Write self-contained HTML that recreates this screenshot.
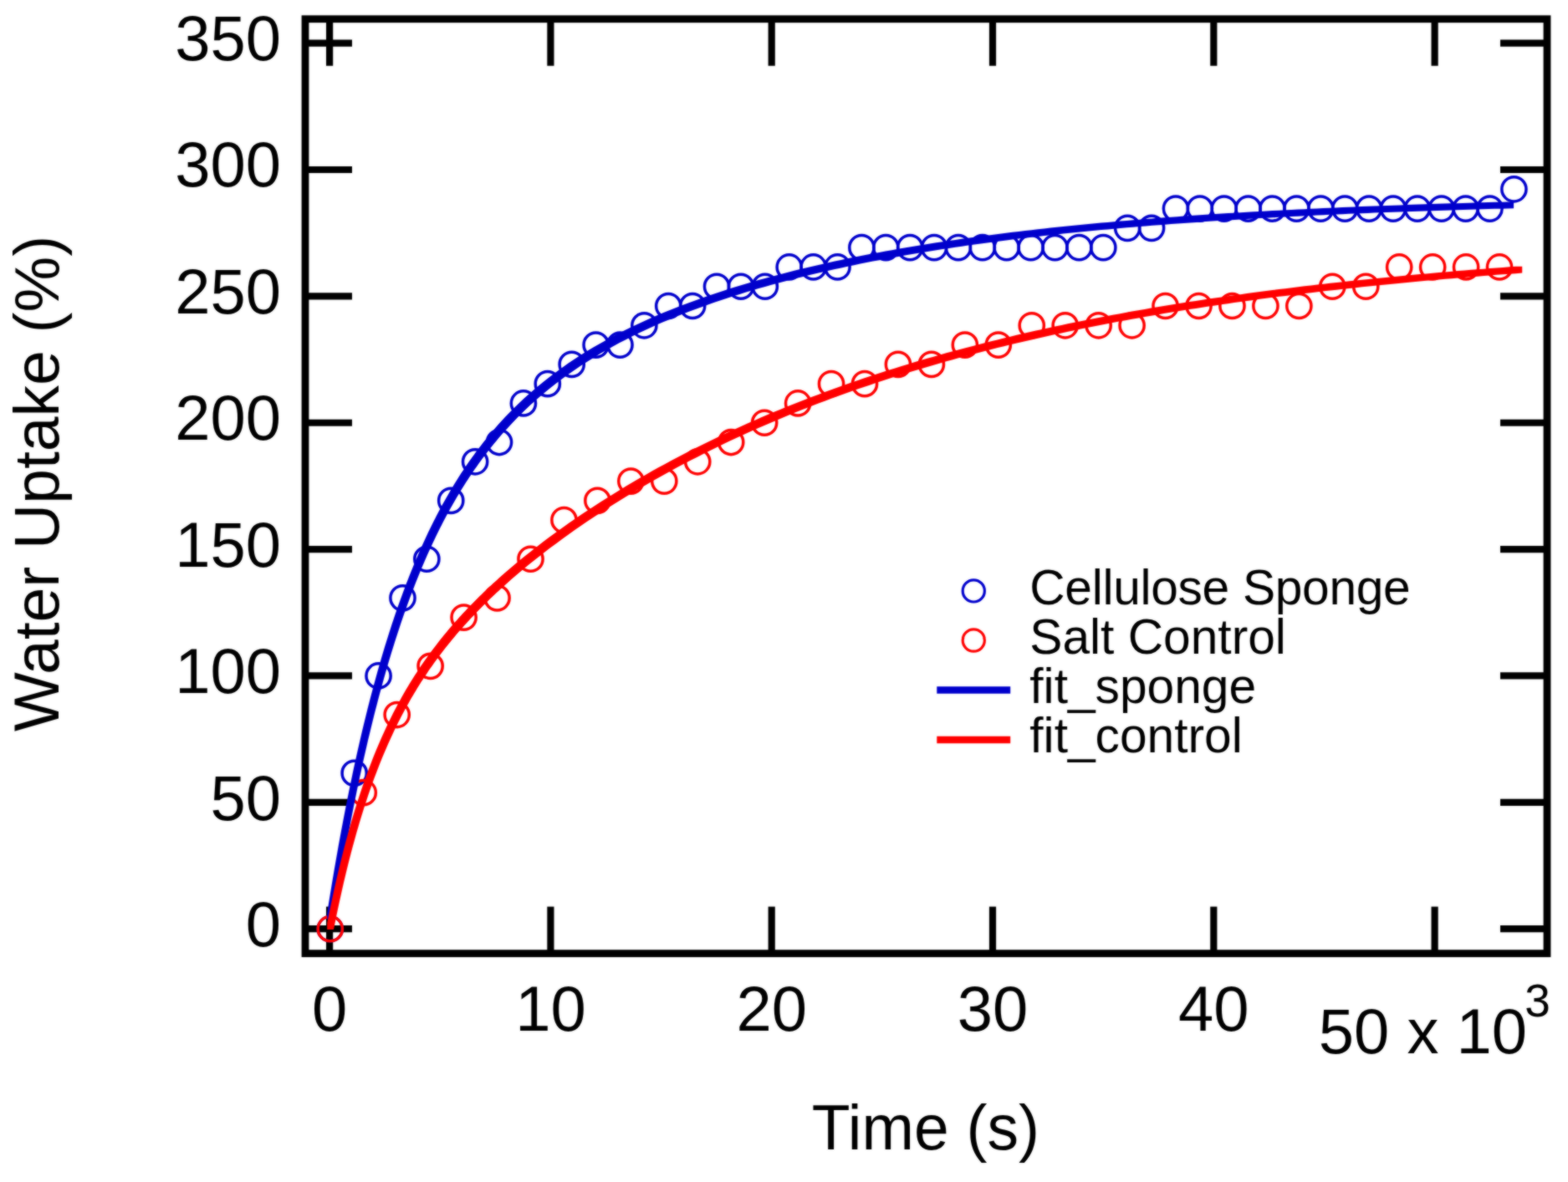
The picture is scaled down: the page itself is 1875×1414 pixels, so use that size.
<!DOCTYPE html>
<html lang="en"><head><meta charset="utf-8"><title>Water Uptake vs Time</title>
<style>html,body{margin:0;padding:0;background:#fff;}body{width:1875px;height:1414px;overflow:hidden;}svg{display:block;}text{font-family:"Liberation Sans",Arial,Helvetica,sans-serif;fill:#000;}</style></head><body>
<svg width="1875" height="1414" viewBox="0 0 1875 1414">
<defs><filter id="soft" filterUnits="userSpaceOnUse" x="0" y="0" width="1875" height="1414" color-interpolation-filters="sRGB"><feGaussianBlur in="SourceGraphic" stdDeviation="1" result="b"/><feComposite in="SourceGraphic" in2="b" operator="arithmetic" k1="0" k2="0.4" k3="0.6" k4="0"/></filter></defs>
<g filter="url(#soft)">
<rect width="1875" height="1414" fill="#fff"/>
<g stroke="#000" stroke-width="8.2" fill="none">
<line x1="394.1" y1="1140.6" x2="394.1" y2="1084.6"/>
<line x1="394.1" y1="22.75" x2="394.1" y2="78.75"/>
<line x1="658.4" y1="1140.6" x2="658.4" y2="1084.6"/>
<line x1="658.4" y1="22.75" x2="658.4" y2="78.75"/>
<line x1="922.7" y1="1140.6" x2="922.7" y2="1084.6"/>
<line x1="922.7" y1="22.75" x2="922.7" y2="78.75"/>
<line x1="1187" y1="1140.6" x2="1187" y2="1084.6"/>
<line x1="1187" y1="22.75" x2="1187" y2="78.75"/>
<line x1="1451.3" y1="1140.6" x2="1451.3" y2="1084.6"/>
<line x1="1451.3" y1="22.75" x2="1451.3" y2="78.75"/>
<line x1="1715.6" y1="1140.6" x2="1715.6" y2="1084.6"/>
<line x1="1715.6" y1="22.75" x2="1715.6" y2="78.75"/>
<line x1="365" y1="1111.2" x2="421" y2="1111.2"/>
<line x1="1850" y1="1111.2" x2="1794" y2="1111.2"/>
<line x1="365" y1="959.84" x2="421" y2="959.84"/>
<line x1="1850" y1="959.84" x2="1794" y2="959.84"/>
<line x1="365" y1="808.47" x2="421" y2="808.47"/>
<line x1="1850" y1="808.47" x2="1794" y2="808.47"/>
<line x1="365" y1="657.11" x2="421" y2="657.11"/>
<line x1="1850" y1="657.11" x2="1794" y2="657.11"/>
<line x1="365" y1="505.74" x2="421" y2="505.74"/>
<line x1="1850" y1="505.74" x2="1794" y2="505.74"/>
<line x1="365" y1="354.38" x2="421" y2="354.38"/>
<line x1="1850" y1="354.38" x2="1794" y2="354.38"/>
<line x1="365" y1="203.01" x2="421" y2="203.01"/>
<line x1="1850" y1="203.01" x2="1794" y2="203.01"/>
<line x1="365" y1="51.64" x2="421" y2="51.64"/>
<line x1="1850" y1="51.64" x2="1794" y2="51.64"/>
</g>
<rect x="365" y="22.75" width="1485" height="1117.85" fill="none" stroke="#000" stroke-width="8.8"/>
<text transform="translate(336 1132.1)" font-size="76" text-anchor="end">0</text>
<text transform="translate(336 980.65)" font-size="76" text-anchor="end">50</text>
<text transform="translate(336 829.2)" font-size="76" text-anchor="end">100</text>
<text transform="translate(336 677.75)" font-size="76" text-anchor="end">150</text>
<text transform="translate(336 526.3)" font-size="76" text-anchor="end">200</text>
<text transform="translate(336 374.85)" font-size="76" text-anchor="end">250</text>
<text transform="translate(336 223.4)" font-size="76" text-anchor="end">300</text>
<text transform="translate(336 71.95)" font-size="76" text-anchor="end">350</text>
<text transform="translate(394.1 1232.7)" font-size="76" text-anchor="middle">0</text>
<text transform="translate(658.4 1232.7)" font-size="76" text-anchor="middle">10</text>
<text transform="translate(922.7 1232.7)" font-size="76" text-anchor="middle">20</text>
<text transform="translate(1187 1232.7)" font-size="76" text-anchor="middle">30</text>
<text transform="translate(1451.3 1232.7)" font-size="76" text-anchor="middle">40</text>
<text transform="translate(1576.8 1259.6)" font-size="76" text-anchor="start">50 x 10</text>
<text transform="translate(1823.2 1216.3)" font-size="55" text-anchor="start">3</text>
<text transform="translate(1106.8 1375) scale(1 1.02)" font-size="75" text-anchor="middle">Time (s)</text>
<text transform="translate(69.7 578.4) rotate(-90) scale(1 1.02)" font-size="75" text-anchor="middle">Water Uptake (%)</text>
<g fill="none" stroke="#0000cc" stroke-width="3.5">
<circle cx="394.8" cy="1111.2" r="14.6"/>
<circle cx="423.69" cy="924.9" r="14.6"/>
<circle cx="452.58" cy="808.47" r="14.6"/>
<circle cx="481.47" cy="715.32" r="14.6"/>
<circle cx="510.36" cy="668.75" r="14.6"/>
<circle cx="539.25" cy="598.89" r="14.6"/>
<circle cx="568.14" cy="552.31" r="14.6"/>
<circle cx="597.03" cy="529.03" r="14.6"/>
<circle cx="625.92" cy="482.45" r="14.6"/>
<circle cx="654.81" cy="459.17" r="14.6"/>
<circle cx="683.7" cy="435.88" r="14.6"/>
<circle cx="712.59" cy="412.59" r="14.6"/>
<circle cx="741.48" cy="412.59" r="14.6"/>
<circle cx="770.37" cy="389.31" r="14.6"/>
<circle cx="799.26" cy="366.02" r="14.6"/>
<circle cx="828.15" cy="366.02" r="14.6"/>
<circle cx="857.04" cy="342.73" r="14.6"/>
<circle cx="885.93" cy="342.73" r="14.6"/>
<circle cx="914.82" cy="342.73" r="14.6"/>
<circle cx="943.71" cy="319.44" r="14.6"/>
<circle cx="972.6" cy="319.44" r="14.6"/>
<circle cx="1001.49" cy="319.44" r="14.6"/>
<circle cx="1030.38" cy="296.16" r="14.6"/>
<circle cx="1059.27" cy="296.16" r="14.6"/>
<circle cx="1088.16" cy="296.16" r="14.6"/>
<circle cx="1117.05" cy="296.16" r="14.6"/>
<circle cx="1145.94" cy="296.16" r="14.6"/>
<circle cx="1174.83" cy="296.16" r="14.6"/>
<circle cx="1203.72" cy="296.16" r="14.6"/>
<circle cx="1232.61" cy="296.16" r="14.6"/>
<circle cx="1261.5" cy="296.16" r="14.6"/>
<circle cx="1290.39" cy="296.16" r="14.6"/>
<circle cx="1319.28" cy="296.16" r="14.6"/>
<circle cx="1348.17" cy="272.87" r="14.6"/>
<circle cx="1377.06" cy="272.87" r="14.6"/>
<circle cx="1405.95" cy="249.58" r="14.6"/>
<circle cx="1434.84" cy="249.58" r="14.6"/>
<circle cx="1463.73" cy="249.58" r="14.6"/>
<circle cx="1492.62" cy="249.58" r="14.6"/>
<circle cx="1521.51" cy="249.58" r="14.6"/>
<circle cx="1550.4" cy="249.58" r="14.6"/>
<circle cx="1579.29" cy="249.58" r="14.6"/>
<circle cx="1608.18" cy="249.58" r="14.6"/>
<circle cx="1637.07" cy="249.58" r="14.6"/>
<circle cx="1665.96" cy="249.58" r="14.6"/>
<circle cx="1694.85" cy="249.58" r="14.6"/>
<circle cx="1723.74" cy="249.58" r="14.6"/>
<circle cx="1752.63" cy="249.58" r="14.6"/>
<circle cx="1781.52" cy="249.58" r="14.6"/>
<circle cx="1810.41" cy="226.3" r="14.6"/>
<circle cx="1164.3" cy="706.9" r="13.1" stroke-width="3.2"/>
</g>
<g fill="none" stroke="#ff0000" stroke-width="3.5">
<circle cx="394.8" cy="1111.2" r="14.6"/>
<circle cx="434.75" cy="948.19" r="14.6"/>
<circle cx="474.7" cy="855.04" r="14.6"/>
<circle cx="514.65" cy="796.83" r="14.6"/>
<circle cx="554.6" cy="738.61" r="14.6"/>
<circle cx="594.55" cy="715.32" r="14.6"/>
<circle cx="634.5" cy="668.75" r="14.6"/>
<circle cx="674.45" cy="622.17" r="14.6"/>
<circle cx="714.4" cy="598.89" r="14.6"/>
<circle cx="754.35" cy="575.6" r="14.6"/>
<circle cx="794.3" cy="575.6" r="14.6"/>
<circle cx="834.25" cy="552.31" r="14.6"/>
<circle cx="874.2" cy="529.03" r="14.6"/>
<circle cx="914.15" cy="505.74" r="14.6"/>
<circle cx="954.1" cy="482.45" r="14.6"/>
<circle cx="994.05" cy="459.17" r="14.6"/>
<circle cx="1034" cy="459.17" r="14.6"/>
<circle cx="1073.95" cy="435.88" r="14.6"/>
<circle cx="1113.9" cy="435.88" r="14.6"/>
<circle cx="1153.85" cy="412.59" r="14.6"/>
<circle cx="1193.8" cy="412.59" r="14.6"/>
<circle cx="1233.75" cy="389.31" r="14.6"/>
<circle cx="1273.7" cy="389.31" r="14.6"/>
<circle cx="1313.65" cy="389.31" r="14.6"/>
<circle cx="1353.6" cy="389.31" r="14.6"/>
<circle cx="1393.55" cy="366.02" r="14.6"/>
<circle cx="1433.5" cy="366.02" r="14.6"/>
<circle cx="1473.45" cy="366.02" r="14.6"/>
<circle cx="1513.4" cy="366.02" r="14.6"/>
<circle cx="1553.35" cy="366.02" r="14.6"/>
<circle cx="1593.3" cy="342.73" r="14.6"/>
<circle cx="1633.25" cy="342.73" r="14.6"/>
<circle cx="1673.2" cy="319.44" r="14.6"/>
<circle cx="1713.15" cy="319.44" r="14.6"/>
<circle cx="1753.1" cy="319.44" r="14.6"/>
<circle cx="1793.05" cy="319.44" r="14.6"/>
<circle cx="1164.3" cy="766" r="13.1" stroke-width="3.2"/>
</g>
<path d="M391.2 1092.15 L392.92 1081.32 L394.64 1070.69 L396.37 1060.23 L398.09 1049.95 L399.81 1039.85 L401.53 1029.91 L403.25 1020.14 L404.97 1010.54 L406.7 1001.09 L408.42 991.81 L410.14 982.68 L411.86 973.7 L413.58 964.87 L415.31 956.18 L417.03 947.64 L418.75 939.24 L420.47 930.98 L422.19 922.86 L423.92 914.87 L425.64 907.01 L427.36 899.27 L429.08 891.67 L430.8 884.18 L432.52 876.82 L434.25 869.58 L435.97 862.45 L437.69 855.44 L439.41 848.54 L441.13 841.76 L442.86 835.08 L444.58 828.5 L446.3 822.03 L448.02 815.67 L449.74 809.4 L451.46 803.24 L453.19 797.17 L454.91 791.19 L456.63 785.31 L458.35 779.52 L460.07 773.82 L461.8 768.21 L463.52 762.69 L465.24 757.25 L466.96 751.9 L468.68 746.62 L470.41 741.43 L472.13 736.32 L473.85 731.28 L475.57 726.32 L477.29 721.44 L479.01 716.63 L480.74 711.89 L482.46 707.23 L484.18 702.63 L485.9 698.1 L487.62 693.64 L489.35 689.24 L491.07 684.91 L492.79 680.64 L494.51 676.44 L496.23 672.29 L497.95 668.21 L499.68 664.19 L501.4 660.22 L503.12 656.31 L504.84 652.46 L506.56 648.66 L508.29 644.92 L510.01 641.23 L511.73 637.59 L513.45 634 L515.17 630.46 L516.89 626.97 L518.62 623.54 L520.34 620.14 L522.06 616.8 L523.78 613.5 L525.5 610.25 L527.23 607.04 L528.95 603.87 L530.67 600.75 L532.39 597.67 L534.11 594.63 L535.84 591.63 L537.56 588.68 L539.28 585.76 L541 582.88 L542.72 580.04 L544.44 577.23 L546.17 574.46 L547.89 571.73 L549.61 569.03 L551.33 566.37 L553.05 563.74 L554.78 561.15 L556.5 558.59 L558.22 556.06 L559.94 553.56 L561.66 551.1 L563.38 548.66 L565.11 546.26 L566.83 543.88 L568.55 541.54 L570.27 539.22 L571.99 536.93 L573.72 534.67 L575.44 532.44 L577.16 530.23 L578.88 528.05 L580.6 525.9 L582.33 523.77 L584.05 521.67 L585.77 519.59 L587.49 517.54 L589.21 515.51 L590.93 513.5 L592.66 511.52 L594.38 509.56 L596.1 507.62 L603.69 499.34 L611.27 491.46 L618.86 483.95 L626.44 476.79 L634.03 469.95 L641.62 463.41 L649.2 457.15 L656.79 451.15 L664.38 445.41 L671.96 439.89 L679.55 434.59 L687.13 429.5 L694.72 424.59 L702.31 419.87 L709.89 415.31 L717.48 410.92 L725.06 406.67 L732.65 402.57 L740.24 398.61 L747.82 394.77 L755.41 391.05 L763 387.45 L770.58 383.96 L778.17 380.57 L785.75 377.28 L793.34 374.08 L800.93 370.98 L808.51 367.96 L816.1 365.02 L823.68 362.16 L831.27 359.38 L838.86 356.67 L846.44 354.03 L854.03 351.45 L861.62 348.94 L869.2 346.5 L876.79 344.11 L884.37 341.78 L891.96 339.5 L899.55 337.28 L907.13 335.11 L914.72 332.99 L922.31 330.92 L929.89 328.9 L937.48 326.92 L945.06 324.98 L952.65 323.09 L960.24 321.24 L967.82 319.44 L975.41 317.67 L982.99 315.93 L990.58 314.24 L998.17 312.58 L1005.75 310.96 L1013.34 309.37 L1020.93 307.82 L1028.51 306.29 L1036.1 304.8 L1043.68 303.35 L1051.27 301.92 L1058.86 300.52 L1066.44 299.15 L1074.03 297.8 L1081.61 296.49 L1089.2 295.2 L1096.79 293.94 L1104.37 292.71 L1111.96 291.49 L1119.55 290.31 L1127.13 289.15 L1134.72 288.01 L1142.3 286.89 L1149.89 285.8 L1157.48 284.73 L1165.06 283.68 L1172.65 282.65 L1180.23 281.64 L1187.82 280.65 L1195.41 279.69 L1202.99 278.74 L1210.58 277.81 L1218.17 276.9 L1225.75 276 L1233.34 275.13 L1240.92 274.27 L1248.51 273.43 L1256.1 272.61 L1263.68 271.8 L1271.27 271.01 L1278.85 270.23 L1286.44 269.47 L1294.03 268.73 L1301.61 268 L1309.2 267.28 L1316.79 266.58 L1324.37 265.89 L1331.96 265.21 L1339.54 264.55 L1347.13 263.91 L1354.72 263.27 L1362.3 262.65 L1369.89 262.04 L1377.47 261.44 L1385.06 260.85 L1392.65 260.28 L1400.23 259.71 L1407.82 259.16 L1415.41 258.62 L1422.99 258.09 L1430.58 257.57 L1438.16 257.06 L1445.75 256.56 L1453.34 256.07 L1460.92 255.59 L1468.51 255.12 L1476.09 254.65 L1483.68 254.2 L1491.27 253.76 L1498.85 253.32 L1506.44 252.9 L1514.03 252.48 L1521.61 252.07 L1529.2 251.67 L1536.78 251.27 L1544.37 250.89 L1551.96 250.51 L1559.54 250.14 L1567.13 249.78 L1574.72 249.42 L1582.3 249.07 L1589.89 248.73 L1597.47 248.39 L1605.06 248.06 L1612.65 247.74 L1620.23 247.42 L1627.82 247.11 L1635.4 246.81 L1642.99 246.51 L1650.58 246.22 L1658.16 245.93 L1665.75 245.65 L1673.34 245.38 L1680.92 245.11 L1688.51 244.84 L1696.09 244.58 L1703.68 244.33 L1711.27 244.08 L1718.85 243.84 L1726.44 243.6 L1734.02 243.36 L1741.61 243.13 L1749.2 242.91 L1756.78 242.68 L1764.37 242.47 L1771.96 242.26 L1779.54 242.05 L1787.13 241.84 L1794.71 241.64 L1802.3 241.45 L1810.1 241.45 L1810.1 249.25 L1802.51 249.44 L1794.93 249.64 L1787.34 249.85 L1779.76 250.06 L1772.17 250.27 L1764.58 250.48 L1757 250.71 L1749.41 250.93 L1741.82 251.16 L1734.24 251.4 L1726.65 251.64 L1719.07 251.88 L1711.48 252.13 L1703.89 252.38 L1696.31 252.64 L1688.72 252.91 L1681.14 253.18 L1673.55 253.45 L1665.96 253.73 L1658.38 254.02 L1650.79 254.31 L1643.2 254.61 L1635.62 254.91 L1628.03 255.22 L1620.45 255.54 L1612.86 255.86 L1605.27 256.19 L1597.69 256.53 L1590.1 256.87 L1582.52 257.22 L1574.93 257.58 L1567.34 257.94 L1559.76 258.31 L1552.17 258.69 L1544.58 259.07 L1537 259.47 L1529.41 259.87 L1521.83 260.28 L1514.24 260.7 L1506.65 261.12 L1499.07 261.56 L1491.48 262 L1483.89 262.45 L1476.31 262.92 L1468.72 263.39 L1461.14 263.87 L1453.55 264.36 L1445.96 264.86 L1438.38 265.37 L1430.79 265.89 L1423.21 266.42 L1415.62 266.96 L1408.03 267.51 L1400.45 268.08 L1392.86 268.65 L1385.27 269.24 L1377.69 269.84 L1370.1 270.45 L1362.52 271.07 L1354.93 271.71 L1347.34 272.35 L1339.76 273.01 L1332.17 273.69 L1324.59 274.38 L1317 275.08 L1309.41 275.8 L1301.83 276.53 L1294.24 277.27 L1286.65 278.03 L1279.07 278.81 L1271.48 279.6 L1263.9 280.41 L1256.31 281.23 L1248.72 282.07 L1241.14 282.93 L1233.55 283.8 L1225.97 284.7 L1218.38 285.61 L1210.79 286.54 L1203.21 287.49 L1195.62 288.45 L1188.03 289.44 L1180.45 290.45 L1172.86 291.48 L1165.28 292.53 L1157.69 293.6 L1150.1 294.69 L1142.52 295.81 L1134.93 296.95 L1127.35 298.11 L1119.76 299.29 L1112.17 300.51 L1104.59 301.74 L1097 303 L1089.41 304.29 L1081.83 305.6 L1074.24 306.95 L1066.66 308.32 L1059.07 309.72 L1051.48 311.15 L1043.9 312.6 L1036.31 314.09 L1028.73 315.62 L1021.14 317.17 L1013.55 318.76 L1005.97 320.38 L998.38 322.04 L990.79 323.73 L983.21 325.47 L975.62 327.24 L968.04 329.04 L960.45 330.89 L952.86 332.78 L945.28 334.72 L937.69 336.7 L930.11 338.72 L922.52 340.79 L914.93 342.91 L907.35 345.08 L899.76 347.3 L892.17 349.58 L884.59 351.91 L877 354.3 L869.42 356.74 L861.83 359.25 L854.24 361.83 L846.66 364.47 L839.07 367.18 L831.48 369.96 L823.9 372.82 L816.31 375.76 L808.73 378.78 L801.14 381.88 L793.55 385.08 L785.97 388.37 L778.38 391.76 L770.8 395.25 L763.21 398.85 L755.62 402.57 L748.04 406.41 L740.45 410.37 L732.86 414.47 L725.28 418.72 L717.69 423.11 L710.11 427.67 L702.52 432.39 L694.93 437.3 L687.35 442.39 L679.76 447.69 L672.18 453.21 L664.59 458.95 L657 464.95 L649.42 471.21 L641.83 477.75 L634.24 484.59 L626.66 491.75 L619.07 499.26 L611.49 507.14 L603.9 515.42 L602.18 517.36 L600.46 519.32 L598.73 521.3 L597.01 523.31 L595.29 525.34 L593.57 527.39 L591.85 529.47 L590.13 531.57 L588.4 533.7 L586.68 535.85 L584.96 538.03 L583.24 540.24 L581.52 542.47 L579.79 544.73 L578.07 547.02 L576.35 549.34 L574.63 551.68 L572.91 554.06 L571.18 556.46 L569.46 558.9 L567.74 561.36 L566.02 563.86 L564.3 566.39 L562.58 568.95 L560.85 571.54 L559.13 574.17 L557.41 576.83 L555.69 579.53 L553.97 582.26 L552.24 585.03 L550.52 587.84 L548.8 590.68 L547.08 593.56 L545.36 596.48 L543.64 599.43 L541.91 602.43 L540.19 605.47 L538.47 608.55 L536.75 611.67 L535.03 614.84 L533.3 618.05 L531.58 621.3 L529.86 624.6 L528.14 627.94 L526.42 631.34 L524.69 634.77 L522.97 638.26 L521.25 641.8 L519.53 645.39 L517.81 649.03 L516.09 652.72 L514.36 656.46 L512.64 660.26 L510.92 664.11 L509.2 668.02 L507.48 671.99 L505.75 676.01 L504.03 680.09 L502.31 684.24 L500.59 688.44 L498.87 692.71 L497.15 697.04 L495.42 701.44 L493.7 705.9 L491.98 710.43 L490.26 715.03 L488.54 719.69 L486.81 724.43 L485.09 729.24 L483.37 734.12 L481.65 739.08 L479.93 744.12 L478.21 749.23 L476.48 754.42 L474.76 759.7 L473.04 765.05 L471.32 770.49 L469.6 776.01 L467.87 781.62 L466.15 787.32 L464.43 793.11 L462.71 798.99 L460.99 804.97 L459.26 811.04 L457.54 817.2 L455.82 823.47 L454.1 829.83 L452.38 836.3 L450.66 842.88 L448.93 849.56 L447.21 856.34 L445.49 863.24 L443.77 870.25 L442.05 877.38 L440.32 884.62 L438.6 891.98 L436.88 899.47 L435.16 907.07 L433.44 914.81 L431.72 922.67 L429.99 930.66 L428.27 938.78 L426.55 947.04 L424.83 955.44 L423.11 963.98 L421.38 972.67 L419.66 981.5 L417.94 990.48 L416.22 999.61 L414.5 1008.89 L412.77 1018.34 L411.05 1027.94 L409.33 1037.71 L407.61 1047.65 L405.89 1057.75 L404.17 1068.03 L402.44 1078.49 L400.72 1089.12 L399 1099.95 L391.2 1099.95 Z" fill="#0000cc" stroke="none"/>
<path d="M391.2 1104.3 L392.92 1095.65 L394.64 1087.21 L396.37 1078.98 L398.09 1070.94 L399.81 1063.09 L401.53 1055.42 L403.25 1047.94 L404.97 1040.63 L406.7 1033.48 L408.42 1026.5 L410.14 1019.69 L411.86 1013.02 L413.58 1006.5 L415.31 1000.13 L417.03 993.91 L418.75 987.81 L420.47 981.86 L422.19 976.03 L423.92 970.32 L425.64 964.74 L427.36 959.27 L429.08 953.92 L430.8 948.69 L432.52 943.55 L434.25 938.53 L435.97 933.61 L437.69 928.78 L439.41 924.05 L441.13 919.42 L442.86 914.88 L444.58 910.42 L446.3 906.05 L448.02 901.76 L449.74 897.56 L451.46 893.43 L453.19 889.38 L454.91 885.4 L456.63 881.49 L458.35 877.66 L460.07 873.89 L461.8 870.19 L463.52 866.55 L465.24 862.98 L466.96 859.46 L468.68 856.01 L470.41 852.61 L472.13 849.27 L473.85 845.98 L475.57 842.74 L477.29 839.56 L479.01 836.43 L480.74 833.34 L482.46 830.3 L484.18 827.31 L485.9 824.36 L487.62 821.46 L489.35 818.59 L491.07 815.77 L492.79 812.99 L494.51 810.25 L496.23 807.55 L497.95 804.88 L499.68 802.25 L501.4 799.65 L503.12 797.09 L504.84 794.56 L506.56 792.06 L508.29 789.6 L510.01 787.17 L511.73 784.76 L513.45 782.39 L515.17 780.04 L516.89 777.72 L518.62 775.43 L520.34 773.16 L522.06 770.92 L523.78 768.71 L525.5 766.52 L527.23 764.35 L528.95 762.2 L530.67 760.08 L532.39 757.98 L534.11 755.91 L535.84 753.85 L537.56 751.82 L539.28 749.8 L541 747.8 L542.72 745.83 L544.44 743.87 L546.17 741.93 L547.89 740.01 L549.61 738.1 L551.33 736.21 L553.05 734.34 L554.78 732.49 L556.5 730.65 L558.22 728.83 L559.94 727.02 L561.66 725.23 L563.38 723.45 L565.11 721.68 L566.83 719.93 L568.55 718.2 L570.27 716.48 L571.99 714.77 L573.72 713.07 L575.44 711.39 L577.16 709.71 L578.88 708.05 L580.6 706.41 L582.33 704.77 L584.05 703.15 L585.77 701.53 L587.49 699.93 L589.21 698.34 L590.93 696.76 L592.66 695.19 L594.38 693.63 L596.1 692.08 L603.75 685.31 L611.4 678.72 L619.05 672.29 L626.7 666.03 L634.35 659.9 L642 653.92 L649.65 648.06 L657.3 642.33 L664.95 636.72 L672.6 631.21 L680.25 625.81 L687.9 620.51 L695.55 615.31 L703.2 610.2 L710.85 605.18 L718.49 600.24 L726.14 595.4 L733.79 590.63 L741.44 585.94 L749.09 581.33 L756.74 576.79 L764.39 572.33 L772.04 567.94 L779.69 563.62 L787.34 559.37 L794.99 555.18 L802.64 551.06 L810.29 547 L817.94 543.01 L825.59 539.08 L833.24 535.21 L840.89 531.4 L848.54 527.64 L856.19 523.95 L863.84 520.31 L871.49 516.72 L879.14 513.2 L886.79 509.72 L894.44 506.3 L902.09 502.93 L909.74 499.61 L917.39 496.34 L925.04 493.12 L932.69 489.95 L940.34 486.82 L947.99 483.75 L955.64 480.72 L963.28 477.73 L970.93 474.8 L978.58 471.9 L986.23 469.05 L993.88 466.24 L1001.53 463.48 L1009.18 460.75 L1016.83 458.07 L1024.48 455.43 L1032.13 452.83 L1039.78 450.26 L1047.43 447.74 L1055.08 445.25 L1062.73 442.8 L1070.38 440.39 L1078.03 438.01 L1085.68 435.67 L1093.33 433.37 L1100.98 431.1 L1108.63 428.86 L1116.28 426.66 L1123.93 424.49 L1131.58 422.35 L1139.23 420.25 L1146.88 418.18 L1154.53 416.14 L1162.18 414.13 L1169.83 412.14 L1177.48 410.19 L1185.13 408.27 L1192.78 406.38 L1200.43 404.52 L1208.07 402.68 L1215.72 400.87 L1223.37 399.09 L1231.02 397.34 L1238.67 395.61 L1246.32 393.91 L1253.97 392.23 L1261.62 390.58 L1269.27 388.96 L1276.92 387.35 L1284.57 385.78 L1292.22 384.22 L1299.87 382.69 L1307.52 381.18 L1315.17 379.7 L1322.82 378.24 L1330.47 376.8 L1338.12 375.38 L1345.77 373.98 L1353.42 372.61 L1361.07 371.25 L1368.72 369.92 L1376.37 368.6 L1384.02 367.31 L1391.67 366.03 L1399.32 364.77 L1406.97 363.54 L1414.62 362.32 L1422.27 361.12 L1429.92 359.93 L1437.57 358.77 L1445.22 357.62 L1452.86 356.49 L1460.51 355.38 L1468.16 354.28 L1475.81 353.2 L1483.46 352.14 L1491.11 351.09 L1498.76 350.06 L1506.41 349.05 L1514.06 348.04 L1521.71 347.06 L1529.36 346.09 L1537.01 345.13 L1544.66 344.19 L1552.31 343.26 L1559.96 342.35 L1567.61 341.45 L1575.26 340.56 L1582.91 339.69 L1590.56 338.83 L1598.21 337.98 L1605.86 337.15 L1613.51 336.33 L1621.16 335.52 L1628.81 334.72 L1636.46 333.93 L1644.11 333.16 L1651.76 332.4 L1659.41 331.65 L1667.06 330.91 L1674.71 330.18 L1682.36 329.47 L1690.01 328.76 L1697.65 328.06 L1705.3 327.38 L1712.95 326.7 L1720.6 326.04 L1728.25 325.39 L1735.9 324.74 L1743.55 324.11 L1751.2 323.48 L1758.85 322.86 L1766.5 322.26 L1774.15 321.66 L1781.8 321.07 L1789.45 320.49 L1797.1 319.92 L1804.75 319.36 L1812.4 318.81 L1820.2 318.81 L1820.2 326.61 L1812.55 327.16 L1804.9 327.72 L1797.25 328.29 L1789.6 328.87 L1781.95 329.46 L1774.3 330.06 L1766.65 330.66 L1759 331.28 L1751.35 331.91 L1743.7 332.54 L1736.05 333.19 L1728.4 333.84 L1720.75 334.5 L1713.1 335.18 L1705.45 335.86 L1697.81 336.56 L1690.16 337.27 L1682.51 337.98 L1674.86 338.71 L1667.21 339.45 L1659.56 340.2 L1651.91 340.96 L1644.26 341.73 L1636.61 342.52 L1628.96 343.32 L1621.31 344.13 L1613.66 344.95 L1606.01 345.78 L1598.36 346.63 L1590.71 347.49 L1583.06 348.36 L1575.41 349.25 L1567.76 350.15 L1560.11 351.06 L1552.46 351.99 L1544.81 352.93 L1537.16 353.89 L1529.51 354.86 L1521.86 355.84 L1514.21 356.85 L1506.56 357.86 L1498.91 358.89 L1491.26 359.94 L1483.61 361 L1475.96 362.08 L1468.31 363.18 L1460.66 364.29 L1453.02 365.42 L1445.37 366.57 L1437.72 367.73 L1430.07 368.92 L1422.42 370.12 L1414.77 371.34 L1407.12 372.57 L1399.47 373.83 L1391.82 375.11 L1384.17 376.4 L1376.52 377.72 L1368.87 379.05 L1361.22 380.41 L1353.57 381.78 L1345.92 383.18 L1338.27 384.6 L1330.62 386.04 L1322.97 387.5 L1315.32 388.98 L1307.67 390.49 L1300.02 392.02 L1292.37 393.58 L1284.72 395.15 L1277.07 396.76 L1269.42 398.38 L1261.77 400.03 L1254.12 401.71 L1246.47 403.41 L1238.82 405.14 L1231.17 406.89 L1223.52 408.67 L1215.87 410.48 L1208.23 412.32 L1200.58 414.18 L1192.93 416.07 L1185.28 417.99 L1177.63 419.94 L1169.98 421.93 L1162.33 423.94 L1154.68 425.98 L1147.03 428.05 L1139.38 430.15 L1131.73 432.29 L1124.08 434.46 L1116.43 436.66 L1108.78 438.9 L1101.13 441.17 L1093.48 443.47 L1085.83 445.81 L1078.18 448.19 L1070.53 450.6 L1062.88 453.05 L1055.23 455.54 L1047.58 458.06 L1039.93 460.63 L1032.28 463.23 L1024.63 465.87 L1016.98 468.55 L1009.33 471.28 L1001.68 474.04 L994.03 476.85 L986.38 479.7 L978.73 482.6 L971.08 485.53 L963.44 488.52 L955.79 491.55 L948.14 494.62 L940.49 497.75 L932.84 500.92 L925.19 504.14 L917.54 507.41 L909.89 510.73 L902.24 514.1 L894.59 517.52 L886.94 521 L879.29 524.52 L871.64 528.11 L863.99 531.75 L856.34 535.44 L848.69 539.2 L841.04 543.01 L833.39 546.88 L825.74 550.81 L818.09 554.8 L810.44 558.86 L802.79 562.98 L795.14 567.17 L787.49 571.42 L779.84 575.74 L772.19 580.13 L764.54 584.59 L756.89 589.13 L749.24 593.74 L741.59 598.43 L733.94 603.2 L726.29 608.04 L718.65 612.98 L711 618 L703.35 623.11 L695.7 628.31 L688.05 633.61 L680.4 639.01 L672.75 644.52 L665.1 650.13 L657.45 655.86 L649.8 661.72 L642.15 667.7 L634.5 673.83 L626.85 680.09 L619.2 686.52 L611.55 693.11 L603.9 699.88 L602.18 701.43 L600.46 702.99 L598.73 704.56 L597.01 706.14 L595.29 707.73 L593.57 709.33 L591.85 710.95 L590.13 712.57 L588.4 714.21 L586.68 715.85 L584.96 717.51 L583.24 719.19 L581.52 720.87 L579.79 722.57 L578.07 724.28 L576.35 726 L574.63 727.73 L572.91 729.48 L571.18 731.25 L569.46 733.03 L567.74 734.82 L566.02 736.63 L564.3 738.45 L562.58 740.29 L560.85 742.14 L559.13 744.01 L557.41 745.9 L555.69 747.81 L553.97 749.73 L552.24 751.67 L550.52 753.63 L548.8 755.6 L547.08 757.6 L545.36 759.62 L543.64 761.65 L541.91 763.71 L540.19 765.78 L538.47 767.88 L536.75 770 L535.03 772.15 L533.3 774.32 L531.58 776.51 L529.86 778.72 L528.14 780.96 L526.42 783.23 L524.69 785.52 L522.97 787.84 L521.25 790.19 L519.53 792.56 L517.81 794.97 L516.09 797.4 L514.36 799.86 L512.64 802.36 L510.92 804.89 L509.2 807.45 L507.48 810.05 L505.75 812.68 L504.03 815.35 L502.31 818.05 L500.59 820.79 L498.87 823.57 L497.15 826.39 L495.42 829.26 L493.7 832.16 L491.98 835.11 L490.26 838.1 L488.54 841.14 L486.81 844.23 L485.09 847.36 L483.37 850.54 L481.65 853.78 L479.93 857.07 L478.21 860.41 L476.48 863.81 L474.76 867.26 L473.04 870.78 L471.32 874.35 L469.6 877.99 L467.87 881.69 L466.15 885.46 L464.43 889.29 L462.71 893.2 L460.99 897.18 L459.26 901.23 L457.54 905.36 L455.82 909.56 L454.1 913.85 L452.38 918.22 L450.66 922.68 L448.93 927.22 L447.21 931.85 L445.49 936.58 L443.77 941.41 L442.05 946.33 L440.32 951.35 L438.6 956.49 L436.88 961.72 L435.16 967.07 L433.44 972.54 L431.72 978.12 L429.99 983.83 L428.27 989.66 L426.55 995.61 L424.83 1001.71 L423.11 1007.93 L421.38 1014.3 L419.66 1020.82 L417.94 1027.49 L416.22 1034.3 L414.5 1041.28 L412.77 1048.43 L411.05 1055.74 L409.33 1063.22 L407.61 1070.89 L405.89 1078.74 L404.17 1086.78 L402.44 1095.01 L400.72 1103.45 L399 1112.1 L391.2 1112.1 Z" fill="#ff0000" stroke="none"/>
<line x1="1120.3" y1="825.5" x2="1208.2" y2="825.5" stroke="#0000cc" stroke-width="8.5"/>
<line x1="1120.3" y1="885" x2="1208.2" y2="885" stroke="#ff0000" stroke-width="8.5"/>
<text transform="translate(1231.3 722.9) scale(1 1.02)" font-size="58.7" text-anchor="start" letter-spacing="-0.3">Cellulose Sponge</text>
<text transform="translate(1231.3 781.6) scale(1 1.02)" font-size="58.7" text-anchor="start">Salt Control</text>
<text transform="translate(1231.3 841.3) scale(1 1.02)" font-size="58.7" text-anchor="start">fit_sponge</text>
<text transform="translate(1231.3 900.4) scale(1 1.02)" font-size="58.7" text-anchor="start">fit_control</text>
</g>
</svg></body></html>
